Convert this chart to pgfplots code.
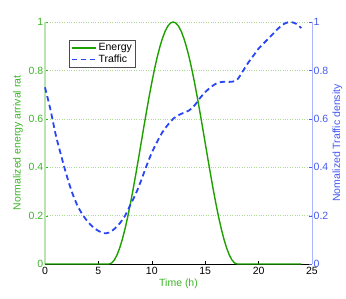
\documentclass[border=0pt]{standalone}
\usepackage{pgfplots}
\pgfplotsset{compat=1.18}
\usepackage{fontspec}
\setmainfont{Liberation Sans}
\definecolor{energygreen}{RGB}{30,160,0}
\definecolor{labelgreen}{RGB}{60,180,40}
\definecolor{leftline}{RGB}{185,228,175}
\definecolor{trafficblue}{RGB}{40,70,245}
\definecolor{labelblue}{RGB}{70,90,240}
\definecolor{rightline}{RGB}{170,180,255}
\definecolor{gridgreen}{RGB}{170,220,150}
\begin{document}
\begin{tikzpicture}
\useasboundingbox (-45pt,-34pt) rectangle (301pt,264pt);
\pgfplotsset{
  every axis/.append style={
    font=\fontsize{10.5}{12}\selectfont,
    /pgf/number format/assume math mode=true,
    scale only axis, width=267pt, height=242pt,
    at={(0pt,0pt)}, anchor=south west,
    xmin=0, xmax=25, ymin=0, ymax=1,
    tick align=inside, major tick length=3pt,
    clip=false,
  },
}
\begin{axis}[
  axis x line*=bottom, axis y line*=left,
  x axis line style={black,-},
  y axis line style={leftline,line width=2.5pt,-},
  xtick={0,5,10,15,20,25},
  ytick={0,0.2,0.4,0.6,0.8,1},
  yticklabels={0,0.2,0.4,0.6,0.8,1},
  xticklabel style={black},
  yticklabel style={labelgreen, inner sep=1.5pt},
  y tick style={labelgreen},
  x tick style={black},
  ymajorgrids, grid style={gridgreen, dotted, line width=0.6pt},
  xlabel={Time (h)},
  ylabel={Normalized energy arrival rat},
  every axis x label/.style={at={(axis description cs:0.5,-0.083)}, anchor=center, labelgreen},
  every axis y label/.style={at={(axis description cs:-0.101,0.5)}, rotate=90, anchor=center, labelgreen},
]
\addplot[energygreen, line width=1.4pt] coordinates {
(0,0) (1,0) (2,0) (3,0) (4,0) (5,0) (6,0)
(6.25,0.0043) (6.5,0.0170) (6.75,0.0381) (7,0.0670) (7.25,0.1033) (7.5,0.1464) (7.75,0.1956)
(8,0.25) (8.25,0.3087) (8.5,0.3706) (8.75,0.4347) (9,0.5) (9.25,0.5653) (9.5,0.6294) (9.75,0.6913)
(10,0.75) (10.25,0.8044) (10.5,0.8536) (10.75,0.8967) (11,0.9330) (11.25,0.9619) (11.5,0.9830) (11.75,0.9957)
(12,1)
(12.25,0.9957) (12.5,0.9830) (12.75,0.9619) (13,0.9330) (13.25,0.8967) (13.5,0.8536) (13.75,0.8044)
(14,0.75) (14.25,0.6913) (14.5,0.6294) (14.75,0.5653) (15,0.5) (15.25,0.4347) (15.5,0.3706) (15.75,0.3087)
(16,0.25) (16.25,0.1956) (16.5,0.1464) (16.75,0.1033) (17,0.0670) (17.25,0.0381) (17.5,0.0170) (17.75,0.0043)
(18,0) (19,0) (20,0) (21,0) (22,0) (23,0) (24,0)
};
\end{axis}
\begin{axis}[
  axis x line=none, axis y line*=right,
  y axis line style={rightline,line width=0.8pt,-},
  ytick={0,0.2,0.4,0.6,0.8,1},
  yticklabels={0,0.2,0.4,0.6,0.8,1},
  yticklabel style={labelblue, inner sep=1.5pt},
  y tick style={labelblue},
  ylabel={Nomalized Traffic density},
  every axis y label/.style={at={(axis description cs:1.095,0.5)}, rotate=90, anchor=center, labelblue},
  legend style={at={(axis description cs:0.09,0.926)}, anchor=north west,
    draw=black!70, line width=0.6pt, fill=white, font=\fontsize{10.5}{12}\selectfont,
    inner sep=1.5pt, row sep=-1.5pt, text=black},
  legend cell align=left,
  legend image code/.code={\draw[#1] (0pt,0pt) -- (24pt,0pt);},
]
\addlegendimage{energygreen, line width=1.4pt}
\addlegendentry{Energy}
\addplot[trafficblue, line width=1.8pt, dash pattern=on 5.5pt off 3.5pt, smooth, tension=0.5] coordinates {
(0,0.73) (0.5,0.64) (1,0.535) (1.5,0.45) (2,0.37) (2.5,0.30) (3,0.245) (3.5,0.205) (4,0.175) (4.5,0.152)
(5,0.137) (5.5,0.127) (6,0.13) (6.5,0.145) (7,0.168) (7.5,0.20) (8,0.245) (8.5,0.29) (9,0.345) (9.5,0.405)
(10,0.46) (10.5,0.505) (11,0.545) (11.5,0.575) (12,0.60) (12.5,0.615) (13,0.625) (13.5,0.635) (14,0.655)
(14.5,0.685) (15,0.71) (15.5,0.73) (16,0.745) (16.5,0.752) (17,0.753) (17.5,0.753) (18,0.762) (18.5,0.795)
(19,0.83) (19.5,0.86) (20,0.89) (20.5,0.913) (21,0.935) (21.5,0.958) (22,0.98) (22.5,0.995) (23,1.0)
(23.5,0.993) (24,0.975)
};
\addlegendentry{Traffic}
\end{axis}
\end{tikzpicture}
\end{document}
